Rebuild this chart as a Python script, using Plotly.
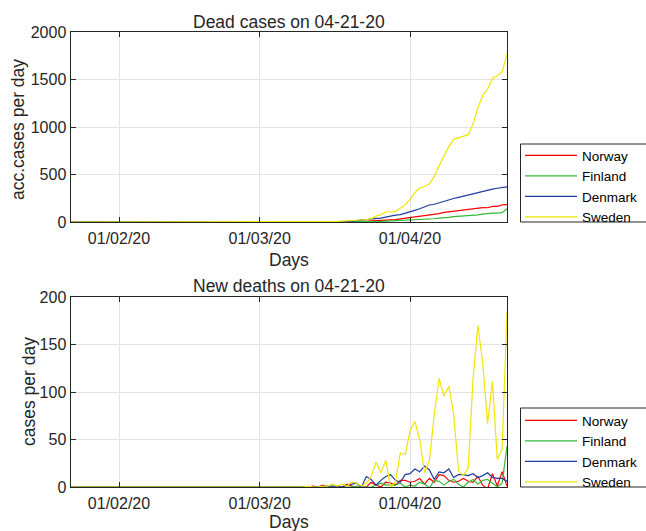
import numpy as np
import pandas as pd
import plotly.graph_objects as go

# accumulated deaths, 22 Jan .. 21 Apr 2020 (zeros before 1 Mar)
dates = pd.date_range("2020-01-22", "2020-04-21", freq="D")
countries = ["Norway", "Finland", "Denmark", "Sweden"]

norway = [0] * 39 + [0] * 11 + [
    1, 1, 3, 3, 3, 3, 3, 6, 7, 7, 7, 7, 12, 14, 14, 19, 23, 25, 32, 39,
    44, 50, 59, 62, 71, 76, 89, 101, 108, 113, 119, 128, 134, 139, 150, 152, 150, 164, 165, 181, 182]
finland = [0] * 39 + [0] * 20 + [
    1, 1, 1, 1, 3, 7, 9, 11, 13, 17, 17,
    19, 20, 25, 28, 27, 34, 40, 42, 48, 56, 59, 59, 64, 72, 75, 82, 90, 94, 94, 98, 141]
denmark = [0] * 39 + [0] * 13 + [
    1, 2, 3, 4, 4, 6, 9, 13, 13, 24, 32, 34, 41, 52, 65, 72, 77, 90,
    104, 123, 139, 161, 179, 187, 203, 218, 237, 247, 260, 273, 285, 299, 309, 321, 336, 346, 355, 364, 370]
sweden = [0] * 39 + [0] * 10 + [
    1, 1, 1, 2, 3, 6, 7, 10, 11, 16, 20, 21, 25, 36, 62, 77, 105, 105, 110, 146, 180,
    239, 308, 358, 373, 401, 477, 591, 687, 793, 870, 887, 899, 919, 1033, 1203, 1333, 1400, 1511, 1540, 1580, 1765]

acc = {"Norway": norway, "Finland": finland, "Denmark": denmark, "Sweden": sweden}
colors = {"Norway": "#ff0000", "Finland": "#33bb33", "Denmark": "#1f3c9e", "Sweden": "#f2e600"}

tick_vals = ["2020-02-01", "2020-03-01", "2020-04-01"]
tick_text = ["01/02/20", "01/03/20", "01/04/20"]

W, H = 646, 531
TXT = "#262626"
FONT = "Liberation Sans, Arial, Helvetica, sans-serif"

fig = go.Figure()
for c in countries:
    fig.add_trace(go.Scatter(x=dates, y=acc[c], mode="lines", name=c,
                             line=dict(color=colors[c], width=1.2),
                             xaxis="x", yaxis="y", legend="legend"))
for c in countries:
    new = np.diff(np.array(acc[c]), prepend=0)
    fig.add_trace(go.Scatter(x=dates, y=new, mode="lines", name=c,
                             line=dict(color=colors[c], width=1.2),
                             xaxis="x2", yaxis="y2", legend="legend2"))

def px_x(p):
    return p / W

def px_y(p):
    return 1 - p / H

xdom = [px_x(70.5), px_x(507)]
axis_common = dict(showline=True, linecolor=TXT, linewidth=1, mirror="ticks",
                   ticks="inside", ticklen=5, tickcolor=TXT, showgrid=True,
                   gridcolor="#e3e3e3", gridwidth=1, zeroline=False, automargin=False,
                   tickfont=dict(size=16, color=TXT, family=FONT))

legend_common = dict(xanchor="left", yanchor="top", bgcolor="rgba(0,0,0,0)",
                     borderwidth=0, itemwidth=52,
                     font=dict(size=13.5, color="#000000", family=FONT))

fig.update_layout(
    width=W, height=H,
    margin=dict(l=0, r=0, t=0, b=0, autoexpand=False),
    paper_bgcolor="white", plot_bgcolor="white",
    font=dict(family=FONT, color=TXT),
    xaxis=dict(domain=xdom, anchor="y", type="date",
               range=["2020-01-22", "2020-04-21"],
               tickvals=tick_vals, ticktext=tick_text, ticklabelstandoff=2, **axis_common),
    yaxis=dict(domain=[px_y(222), px_y(32)], anchor="x", range=[0, 2000],
               tickvals=[0, 500, 1000, 1500, 2000], **axis_common),
    xaxis2=dict(domain=xdom, anchor="y2", type="date",
                range=["2020-01-22", "2020-04-21"],
                tickvals=tick_vals, ticktext=tick_text, ticklabelstandoff=2, **axis_common),
    yaxis2=dict(domain=[px_y(487), px_y(297)], anchor="x2", range=[0, 200],
                tickvals=[0, 50, 100, 150, 200], **axis_common),
    legend=dict(x=px_x(520), y=px_y(140), **legend_common),
    legend2=dict(x=px_x(520), y=px_y(405), **legend_common),
    showlegend=True,
)

# legend boxes (they run off the right edge, as in the original figure)
for top, bottom in [(144, 222), (408, 487)]:
    fig.add_shape(type="rect", xref="paper", yref="paper",
                  x0=px_x(520.5), x1=px_x(660), y0=px_y(bottom), y1=px_y(top),
                  line=dict(color=TXT, width=1), fillcolor="white", layer="above")

def label(text, x, y, size, angle=0):
    fig.add_annotation(text=text, x=px_x(x), y=px_y(y), xref="paper", yref="paper",
                       xanchor="center", yanchor="middle",
                       showarrow=False, textangle=angle,
                       font=dict(size=size, color=TXT, family=FONT))

label("Dead cases on 04-21-20", 288.5, 22, 17.5)
label("New deaths on 04-21-20", 288.5, 286, 17.5)
label("Days", 288.5, 260, 17.5)
label("Days", 288.5, 522, 17.5)
label("acc.cases per day", 18, 130, 17.5, -90)
label("cases per day", 29, 392, 17.5, -90)

# the page body has an 8px default margin; drop it so the figure sits at 0,0
fig.write_html("out.html", config={"displayModeBar": False},
               post_script="document.body.style.margin='0';")
